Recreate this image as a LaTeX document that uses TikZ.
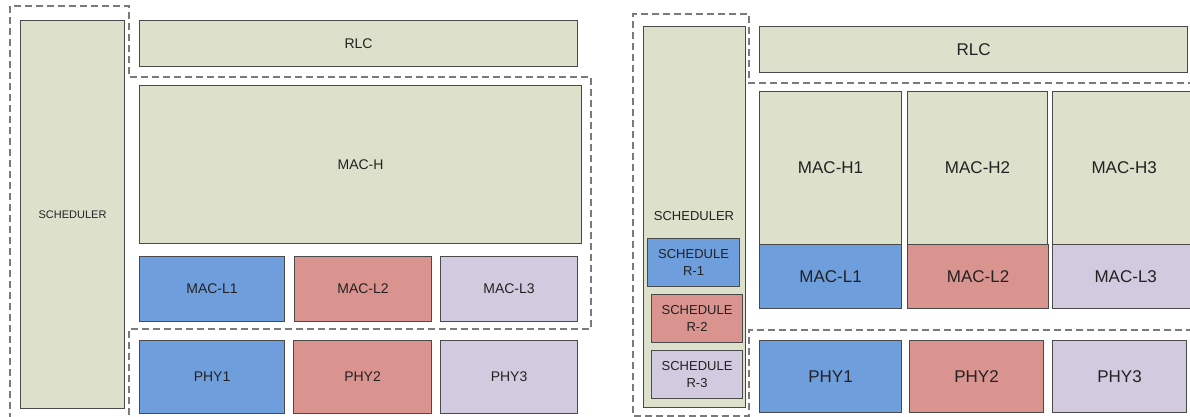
\documentclass[tikz,border=0pt]{standalone}
\usepackage{fontspec}
\setmainfont{Liberation Sans}
\definecolor{cgreen}{HTML}{DDE1CB}
\definecolor{cblue}{HTML}{6F9EDC}
\definecolor{cred}{HTML}{DA9490}
\definecolor{cpurple}{HTML}{D2CADF}
\definecolor{cborder}{HTML}{4A4A4A}
\definecolor{cdash}{HTML}{7A7A7A}
\definecolor{ctext}{HTML}{222222}
\tikzset{
  blk/.style={draw=cborder, line width=1.1pt, inner sep=0pt, text=ctext, align=center, anchor=north west},
  dashline/.style={draw=cdash, line width=1.3pt, dash pattern=on 7pt off 4pt},
  fsm/.style={font=\fontsize{14}{16}\selectfont},
  flg/.style={font=\fontsize{17}{20}\selectfont},
  ftiny/.style={font=\fontsize{11}{13}\selectfont},
  fsub/.style={font=\fontsize{13}{17}\selectfont},
}
\begin{document}
\begin{tikzpicture}[x=1pt,y=-1pt]
\useasboundingbox (0,0) rectangle (1190,417);
\clip (0,0) rectangle (1190,417);
% ---------- left panel ----------
\node[blk, fill=cgreen, ftiny, minimum width=104pt, minimum height=388pt] (schedA) at (20,20) {SCHEDULER};
\node[blk, fill=cgreen, fsm, minimum width=438pt, minimum height=46pt] (rlcA) at (139,20) {RLC};
\node[blk, fill=cgreen, fsm, minimum width=442pt, minimum height=158pt] (machA) at (139,85) {MAC-H};
\node[blk, fill=cblue, fsm, minimum width=145pt, minimum height=65pt] (maclA1) at (139,256) {MAC-L1};
\node[blk, fill=cred, fsm, minimum width=137pt, minimum height=65pt] (maclA2) at (294,256) {MAC-L2};
\node[blk, fill=cpurple, fsm, minimum width=137pt, minimum height=65pt] (maclA3) at (440,256) {MAC-L3};
\node[blk, fill=cblue, fsm, minimum width=145pt, minimum height=73pt] (phyA1) at (139,340) {PHY1};
\node[blk, fill=cred, fsm, minimum width=138pt, minimum height=73pt] (phyA2) at (293,340) {PHY2};
\node[blk, fill=cpurple, fsm, minimum width=137pt, minimum height=73pt] (phyA3) at (440,340) {PHY3};
\draw[dashline] (10,420) -- (10,6) -- (129,6) -- (129,77) -- (591,77) -- (591,329) -- (129,329) -- (129,420);
% ---------- right panel ----------
\node[blk, fill=cgreen, minimum width=102pt, minimum height=381pt] (schedB) at (643,26) {};
\node[fsub, text=ctext] (schedBlab) at (694,216) {SCHEDULER};
\node[blk, fill=cblue, fsub, minimum width=92pt, minimum height=48pt] (schR1) at (647,238) {SCHEDULE\\R-1};
\node[blk, fill=cred, fsub, minimum width=91pt, minimum height=48pt] (schR2) at (651,294) {SCHEDULE\\R-2};
\node[blk, fill=cpurple, fsub, minimum width=91pt, minimum height=48pt] (schR3) at (651,350) {SCHEDULE\\R-3};
\node[blk, fill=cgreen, flg, minimum width=428pt, minimum height=46pt] (rlcB) at (759,26) {RLC};
\node[blk, fill=cgreen, flg, minimum width=142pt, minimum height=153pt] (machB1) at (759,91) {MAC-H1};
\node[blk, fill=cgreen, flg, minimum width=140pt, minimum height=153pt] (machB2) at (907,91) {MAC-H2};
\node[blk, fill=cgreen, flg, minimum width=150pt, minimum height=153pt, text width=138pt, align=left] (machB3) at (1052,91) {\hspace*{33pt}MAC-H3};
\node[blk, fill=cblue, flg, minimum width=142pt, minimum height=64pt] (maclB1) at (759,244) {MAC-L1};
\node[blk, fill=cred, flg, minimum width=141pt, minimum height=64pt] (maclB2) at (907,244) {MAC-L2};
\node[blk, fill=cpurple, flg, minimum width=150pt, minimum height=64pt, text width=138pt, align=left] (maclB3) at (1052,244) {\hspace*{36pt}MAC-L3};
\node[blk, fill=cblue, flg, minimum width=142pt, minimum height=72pt] (phyB1) at (759,340) {PHY1};
\node[blk, fill=cred, flg, minimum width=134pt, minimum height=72pt] (phyB2) at (909,340) {PHY2};
\node[blk, fill=cpurple, flg, minimum width=134pt, minimum height=72pt] (phyB3) at (1052,340) {PHY3};
\draw[dashline] (1195,83) -- (749,83) -- (749,14) -- (633,14) -- (633,416) -- (749,416) -- (749,330) -- (1195,330);
\end{tikzpicture}
\end{document}
